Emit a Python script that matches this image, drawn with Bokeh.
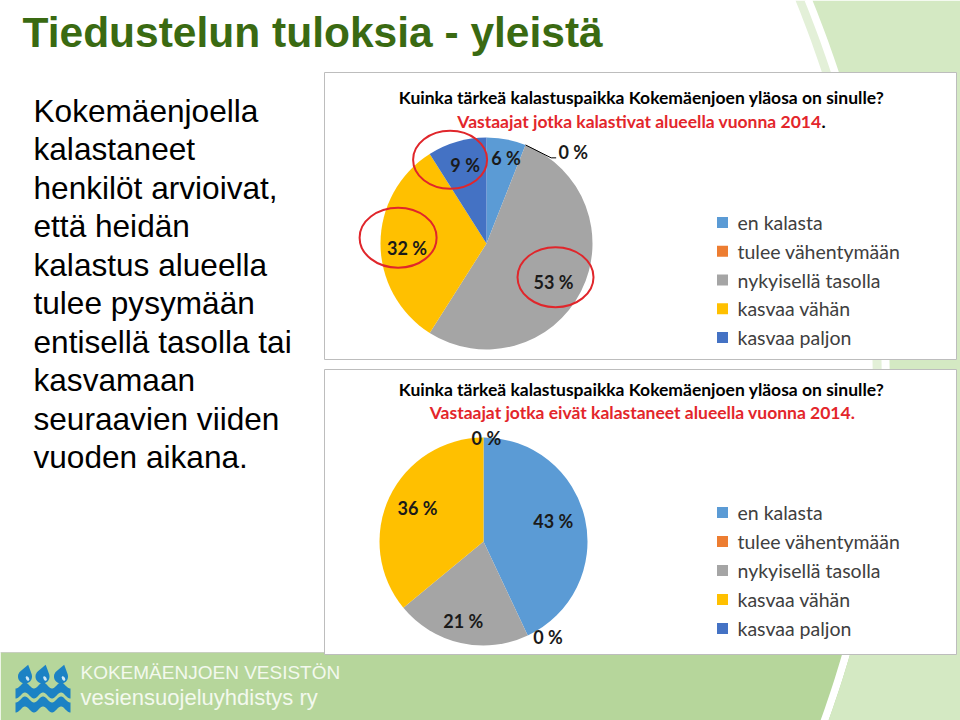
import numpy as np
from bokeh.plotting import figure
from bokeh.models import Range1d, ColumnDataSource
from bokeh.core.properties import value
from bokeh.embed import file_html
from bokeh.resources import INLINE

# ---------------- data ----------------
categories = ["en kalasta", "tulee vähentymään", "nykyisellä tasolla", "kasvaa vähän", "kasvaa paljon"]
slice_colors = ["#5B9BD5", "#ED7D31", "#A5A5A5", "#FFC000", "#4472C4"]
fished_pct = [6, 0, 53, 32, 9]          # kalastivat alueella 2014
not_fished_pct = [43, 0, 21, 36, 0]     # eivät kalastaneet alueella 2014

slide_title = "Tiedustelun tuloksia - yleistä"
body_lines = ["Kokemäenjoella", "kalastaneet", "henkilöt arvioivat,", "että heidän",
              "kalastus alueella", "tulee pysymään", "entisellä tasolla tai",
              "kasvamaan", "seuraavien viiden", "vuoden aikana."]
question = "Kuinka tärkeä kalastuspaikka Kokemäenjoen yläosa on sinulle?"
sub_fished = "Vastaajat jotka kalastivat alueella vuonna 2014"
sub_not_fished = "Vastaajat jotka eivät kalastaneet alueella vuonna 2014."
footer_line1 = "KOKEMÄENJOEN VESISTÖN"
footer_line2 = "vesiensuojeluyhdistys ry"

# ---------------- layout helpers ----------------
W, H = 960, 720
def Y(y):
    return H - np.asarray(y, dtype=float)

p = figure(width=W, height=H, x_range=Range1d(0, W), y_range=Range1d(0, H),
           output_backend="svg", toolbar_location=None, min_border=0,
           x_axis_location=None, y_axis_location=None)
p.grid.visible = False
p.outline_line_color = None
p.background_fill_color = "white"
p.border_fill_color = "white"

CAL = value("Lato")
ARIAL = value("Liberation Sans")

# ---------------- background decoration ----------------
t = np.linspace(0, 1, 120)
P0, P1, P2 = np.array([812, 0]), np.array([958, 360]), np.array([828, 720])
cx_curve = (1 - t) ** 2 * P0[0] + 2 * (1 - t) * t * P1[0] + t ** 2 * P2[0]
cy_curve = (1 - t) ** 2 * P0[1] + 2 * (1 - t) * t * P1[1] + t ** 2 * P2[1]

p.patch(np.concatenate([cx_curve - 17, (cx_curve - 7)[::-1]]),
        Y(np.concatenate([cy_curve, cy_curve[::-1]])),
        fill_color="#e3f0d8", line_color=None)
p.quad(left=0, right=W, top=Y(652), bottom=0, fill_color="#b6d69b", line_color=None)
p.line([0, W], Y([652, 652]), line_color="#c8cfc0", line_width=1)
p.patch(np.concatenate([cx_curve - 8, cx_curve[::-1]]),
        Y(np.concatenate([cy_curve, cy_curve[::-1]])),
        fill_color="white", line_color=None)
p.patch(np.concatenate([cx_curve, [W, W]]), Y(np.concatenate([cy_curve, [720, 0]])),
        fill_color="#d4e9c3", line_color=None)

# ---------------- slide title & body ----------------
p.text(x=[22], y=Y([32]), text=[slide_title], text_font=ARIAL, text_font_style="bold",
       text_font_size="42.5px", text_color="#3a6a12", text_baseline="alphabetic", text_align="left")
body_base = 110
p.text(x=[33] * len(body_lines), y=Y([body_base + 38.5 * i for i in range(len(body_lines))]),
       text=body_lines, text_font=ARIAL, text_font_size="31.6px", text_color="black",
       text_baseline="alphabetic", text_align="left")

# ---------------- chart boxes ----------------
boxes = [(324, 956, 72, 359), (324, 956, 369, 654)]
for l, r, tp, bt in boxes:
    p.quad(left=l, right=r, top=Y(tp), bottom=Y(bt), fill_color="white",
           line_color="#bdbdbd", line_width=1)


def draw_pie(values, cx, cy, r, label_f, label_dt):
    vals = np.array(values, dtype=float)
    frac = vals / vals.sum()
    cum = np.concatenate([[0], np.cumsum(frac)])
    start = np.pi / 2 - 2 * np.pi * cum[:-1]
    end = np.pi / 2 - 2 * np.pi * cum[1:]
    keep = vals > 0   # zero-size wedges would otherwise render as full discs
    src = ColumnDataSource(dict(start=start[keep], end=end[keep],
                                color=[c for c, k in zip(slice_colors, keep) if k]))
    p.wedge(x=cx, y=Y(cy), radius=r, start_angle="start", end_angle="end", direction="clock",
            fill_color="color", line_color=None, source=src)
    mid = 2 * np.pi * (cum[:-1] + frac / 2) + np.radians(label_dt)
    lx = cx + np.array(label_f) * r * np.sin(mid)
    ly = cy - np.array(label_f) * r * np.cos(mid)
    p.text(x=lx, y=Y(ly), text=[f"{int(v)} %" for v in values], text_font=CAL,
           text_font_style="bold", text_font_size="18px", text_color="#1a1a1a",
           text_align="center", text_baseline="middle")
    edge_ang = 2 * np.pi * cum[:-1]
    return lx, ly, edge_ang


def draw_legend(x0, y0, dy):
    ys = np.array([y0 + dy * i for i in range(len(categories))])
    p.rect(x=[x0] * len(categories), y=Y(ys), width=11, height=11, fill_color=slice_colors,
           line_color=None)
    p.text(x=[x0 + 15] * len(categories), y=Y(ys), text=categories, text_font=CAL,
           text_font_size="19.5px", text_color="#404040", text_align="left", text_baseline="middle")


def draw_titles(y1, y2, sub, split_dot):
    p.text(x=[641], y=Y([y1]), text=[question], text_font=CAL, text_font_style="bold",
           text_font_size="17.5px", text_color="black", text_align="center", text_baseline="middle")
    if split_dot:
        p.text(x=[821], y=Y([y2]), text=[sub], text_font=CAL, text_font_style="bold",
               text_font_size="17.5px", text_color="#e3262b", text_align="right", text_baseline="middle")
        p.text(x=[821], y=Y([y2]), text=["."], text_font=CAL, text_font_style="bold",
               text_font_size="17.5px", text_color="black", text_align="left", text_baseline="middle")
    else:
        p.text(x=[642], y=Y([y2]), text=[sub], text_font=CAL, text_font_style="bold",
               text_font_size="17.5px", text_color="#e3262b", text_align="center", text_baseline="middle")


# ---------------- top chart ----------------
draw_titles(97, 121, sub_fished, True)
tcx, tcy, tr = 486, 243, 106
lx, ly, edge = draw_pie(fished_pct, tcx, tcy, tr,
                        label_f=[0.83, 1.19, 0.73, 0.75, 0.77],
                        label_dt=[2, 21.8, 3, -3, 1])
ex = tcx + tr * np.sin(edge[1])
ey = tcy - tr * np.cos(edge[1])
p.line([ex, lx[1] - 22, lx[1] - 17], Y([ey, ly[1] + 6, ly[1] + 6]), line_color="black", line_width=1)
hl = [(4, -15, -5), (3, -9, -10), (2, 2, -5)]
p.ellipse(x=[lx[i] + ox for i, ox, oy in hl], y=Y([ly[i] + oy for i, ox, oy in hl]),
          width=[74, 77, 76], height=[58, 60, 60], fill_color=None,
          line_color="#e0262b", line_width=2)
draw_legend(722, 222, 28.75)

# ---------------- bottom chart ----------------
draw_titles(389, 412, sub_not_fished, False)
draw_pie(not_fished_pct, 483, 541, 104,
         label_f=[0.70, 1.11, 0.79, 0.71, 1.0],
         label_dt=[-4, -8.8, 1.6, 1.6, 1.6])
draw_legend(722, 512, 29)

# ---------------- footer logo ----------------
blue = "#1c82c4"
for dcx in [24.5, 42, 60.5]:
    r_d, dcy = 7.0, 676.0
    tip_dir = np.radians(75)
    d = 1.75 * r_d
    half = np.arccos(r_d / d)
    arc = np.linspace(tip_dir + half, tip_dir + 2 * np.pi - half, 40)
    xs = np.concatenate([[dcx + d * np.cos(tip_dir)], dcx + r_d * np.cos(arc)])
    ys = np.concatenate([[Y(dcy) + d * np.sin(tip_dir)], Y(dcy) + r_d * np.sin(arc)])
    p.patch(xs, ys, fill_color=blue, line_color=None)
    p.ellipse(x=[dcx + 2.5], y=Y([dcy + 2]), width=3, height=5, angle=0.5,
              fill_color="#cfe8f7", line_color=None)
wx = np.linspace(15, 70, 80)
for yc in [690, 704]:
    wave = 3 * np.cos(2 * np.pi * (wx - 24.5) / 18)
    top = yc - 5 - wave
    bot = yc + 5 - wave
    p.patch(np.concatenate([wx, wx[::-1]]), Y(np.concatenate([top, bot[::-1]])),
            fill_color=blue, line_color=None)
p.text(x=[80], y=Y([672]), text=[footer_line1], text_font=ARIAL, text_font_size="19px",
       text_color="#f3f9ee", text_baseline="alphabetic", text_align="left")
p.text(x=[80], y=Y([697]), text=[footer_line2], text_font=ARIAL, text_font_size="22px",
       text_color="#f3f9ee", text_baseline="alphabetic", text_align="left")

open("out.html", "w").write(file_html(p, INLINE))
